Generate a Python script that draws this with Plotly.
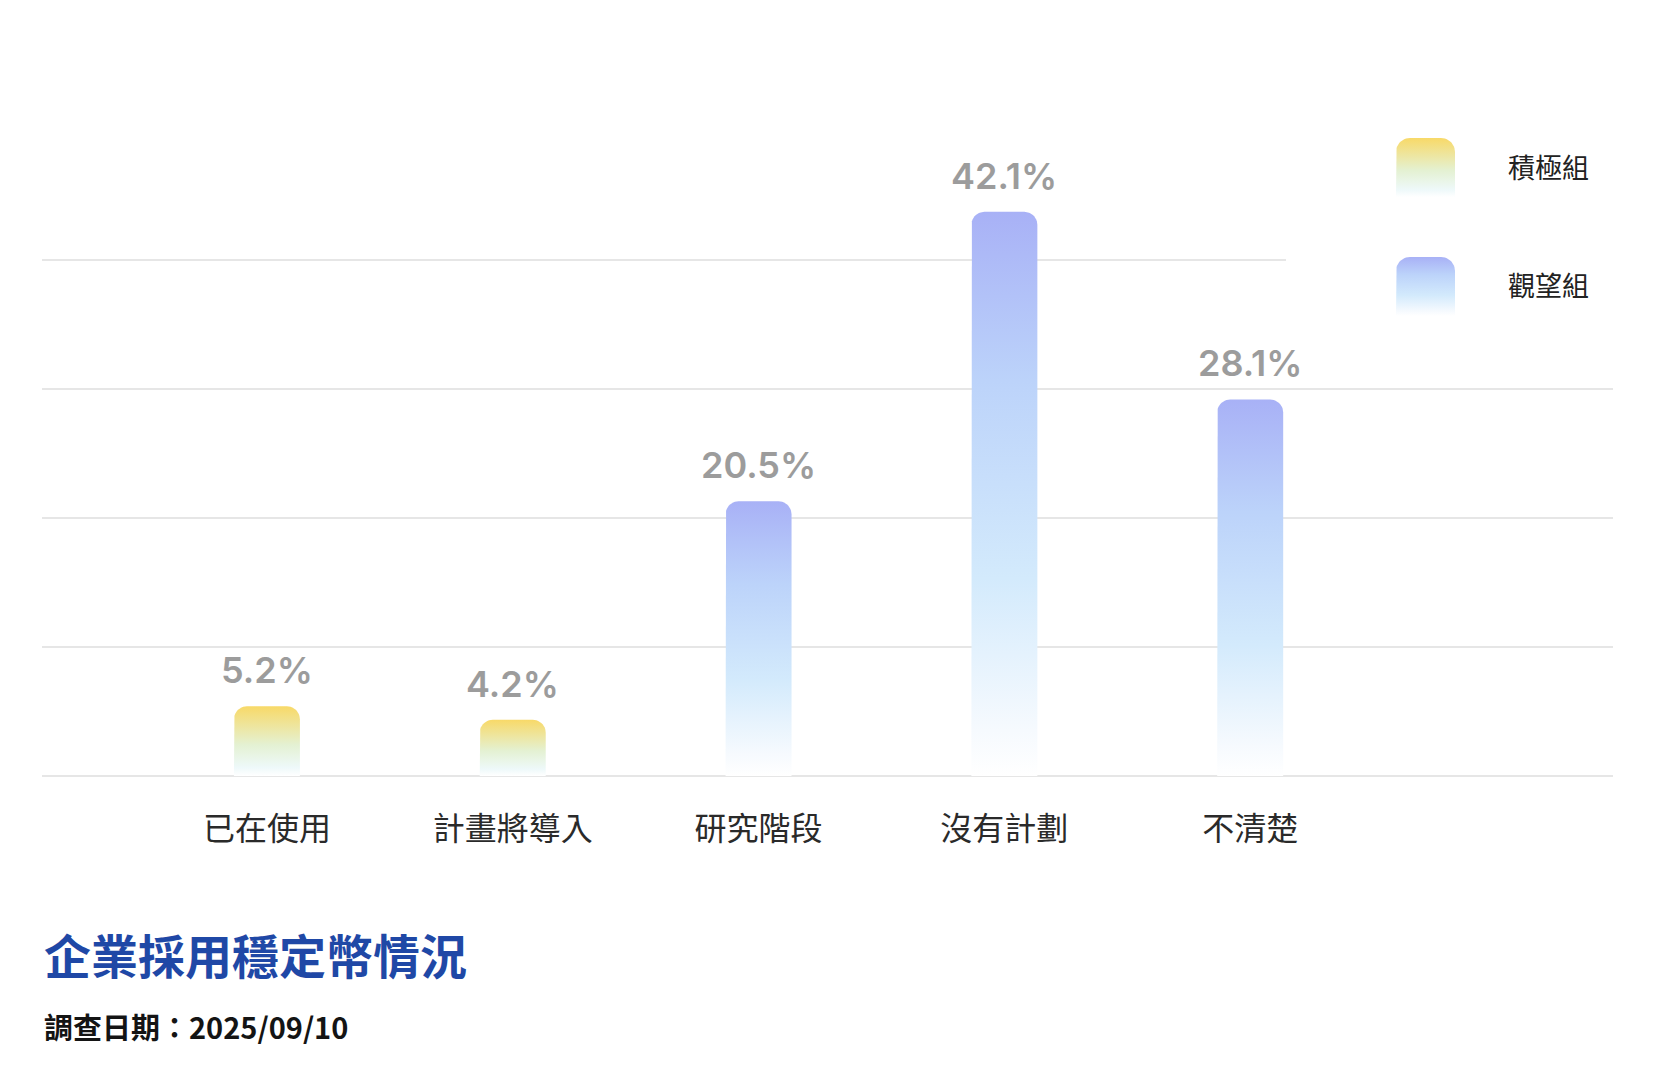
import numpy as np
import plotly.graph_objects as go

# ---------------- data ----------------
categories = ["已在使用", "計畫將導入", "研究階段", "沒有計劃", "不清楚"]
values = [5.2, 4.2, 20.5, 42.1, 28.1]
groups = ["積極組", "積極組", "觀望組", "觀望組", "觀望組"]
value_labels = ["5.2%", "4.2%", "20.5%", "42.1%", "28.1%"]
legend_names = ["積極組", "觀望組"]
title_text = "企業採用穩定幣情況"
subtitle_text = "調查日期：2025/09/10"

# ---------------- layout constants ----------------
W, H = 1656, 1078
BASE_PX = 776          # pixel row of the zero line
PAD_PX = 3             # extra plot area below the zero line
ML, MR, MT = 42, 43, 60
MB = H - BASE_PX - PAD_PX
PW = W - ML - MR
PH = H - MT - MB
PX_PER_UNIT_Y = 13.4
Y_MIN = -PAD_PX / PX_PER_UNIT_Y
Y_MAX = Y_MIN + PH / PX_PER_UNIT_Y
X_RANGE = [-0.915, 5.476]
PX_PER_UNIT_X = PW / (X_RANGE[1] - X_RANGE[0])
BAR_W_PX = 66
RADIUS_PX = 13
GRID_STEP_PX = 129

CJK = "Noto Sans CJK TC, Noto Sans CJK SC, sans-serif"
NUM = "Inter, Lato, sans-serif"

colorscales = {
    "積極組": [[0, "rgba(255,255,255,1)"], [0.12, "#eef9fa"], [0.45, "#e4f1d2"], [1, "#f8d968"]],
    "觀望組": [[0, "rgba(255,255,255,1)"], [0.08, "#f6fafe"], [0.35, "#d3eafc"], [0.7, "#bcd3fa"], [1, "#a8b1f6"]],
}


def px_to_x(px):  # figure pixel -> x data
    return X_RANGE[0] + (px - ML) / PX_PER_UNIT_X


def px_to_y(py):  # figure pixel -> y data
    return (BASE_PX - py) / PX_PER_UNIT_Y


def paper_y(py):
    return (H - MB - py) / PH


def rounded_top(x0, x1, base, top, rx, ry, n=12):
    xs, ys = [x0], [base]
    t = np.linspace(np.pi, np.pi / 2, n)
    xs += list(x0 + rx + rx * np.cos(t)); ys += list(top - ry + ry * np.sin(t))
    t = np.linspace(np.pi / 2, 0, n)
    xs += list(x1 - rx + rx * np.cos(t)); ys += list(top - ry + ry * np.sin(t))
    xs += [x1, x0]; ys += [base, base]
    return xs, ys


fig = go.Figure()

hw = BAR_W_PX / 2 / PX_PER_UNIT_X
rx = RADIUS_PX / PX_PER_UNIT_X
ry = RADIUS_PX / PX_PER_UNIT_Y

for i, (v, g) in enumerate(zip(values, groups)):
    xs, ys = rounded_top(i - hw, i + hw, 0, v, rx, ry)
    fig.add_trace(go.Scatter(
        x=xs, y=ys, mode="lines", fill="toself",
        fillgradient=dict(type="vertical", colorscale=colorscales[g]),
        line=dict(width=0, color="rgba(0,0,0,0)"),
        hoverinfo="skip", showlegend=False,
    ))

# white cover behind legend (hides top gridline there)
cx0, cx1 = px_to_x(1286), px_to_x(W - MR)
cy0, cy1 = px_to_y(330), px_to_y(100)
fig.add_trace(go.Scatter(
    x=[cx0, cx1, cx1, cx0, cx0], y=[cy0, cy0, cy1, cy1, cy0], mode="lines",
    fill="toself", fillcolor="white", line=dict(width=0, color="rgba(0,0,0,0)"),
    hoverinfo="skip", showlegend=False,
))

# custom legend swatches
legend_rows = [(138, 197, 166), (257, 316, 284)]
for name, (top_px, bot_px, txt_px) in zip(legend_names, legend_rows):
    x0, x1 = px_to_x(1396), px_to_x(1455)
    xs, ys = rounded_top(x0, x1, px_to_y(bot_px), px_to_y(top_px),
                         14 / PX_PER_UNIT_X, 14 / PX_PER_UNIT_Y)
    fig.add_trace(go.Scatter(
        x=xs, y=ys, mode="lines", fill="toself",
        fillgradient=dict(type="vertical", colorscale=colorscales[name]),
        line=dict(width=0, color="rgba(0,0,0,0)"),
        hoverinfo="skip", showlegend=False,
    ))
    fig.add_annotation(x=px_to_x(1506), y=px_to_y(txt_px), xref="x", yref="y",
                       text=name, showarrow=False, xanchor="left", yanchor="middle",
                       font=dict(family=CJK, size=27, color="#222222", weight=400))

# value labels
for i, (v, lab) in enumerate(zip(values, value_labels)):
    fig.add_annotation(x=i, y=v, xref="x", yref="y", text=lab, showarrow=False,
                       xanchor="center", yanchor="bottom", yshift=12,
                       font=dict(family=NUM, size=36, color="#9c9c9c", weight=600))

# title and subtitle
fig.add_annotation(x=0, y=paper_y(953), xref="paper", yref="paper",
                   text=title_text, showarrow=False, xanchor="left", yanchor="middle",
                   font=dict(family=CJK, size=47, color="#1f48a6", weight="bold"))
fig.add_annotation(x=0, y=paper_y(1026), xref="paper", yref="paper",
                   text=subtitle_text, showarrow=False, xanchor="left", yanchor="middle",
                   font=dict(family=CJK, size=29, color="#141414", weight="bold"))

grid_vals = [k * GRID_STEP_PX / PX_PER_UNIT_Y for k in range(5)]

fig.update_layout(
    width=W, height=H,
    margin=dict(l=ML, r=MR, t=MT, b=MB, pad=0),
    paper_bgcolor="white", plot_bgcolor="white",
    showlegend=False,
    xaxis=dict(range=X_RANGE, tickvals=list(range(len(categories))), ticktext=categories,
               showgrid=False, zeroline=False, showline=False, ticks="",
               ticklabelstandoff=28,
               tickfont=dict(family=CJK, size=32, color="#2a2a2a", weight=400), fixedrange=True),
    yaxis=dict(range=[Y_MIN, Y_MAX], tickvals=grid_vals, showticklabels=False,
               showgrid=True, gridcolor="#e6e6e6", gridwidth=1.5, zeroline=False,
               showline=False, ticks="", fixedrange=True),
)

fig.write_html("out.html", config={"displayModeBar": False},
               post_script="document.body.style.margin='0px';")
